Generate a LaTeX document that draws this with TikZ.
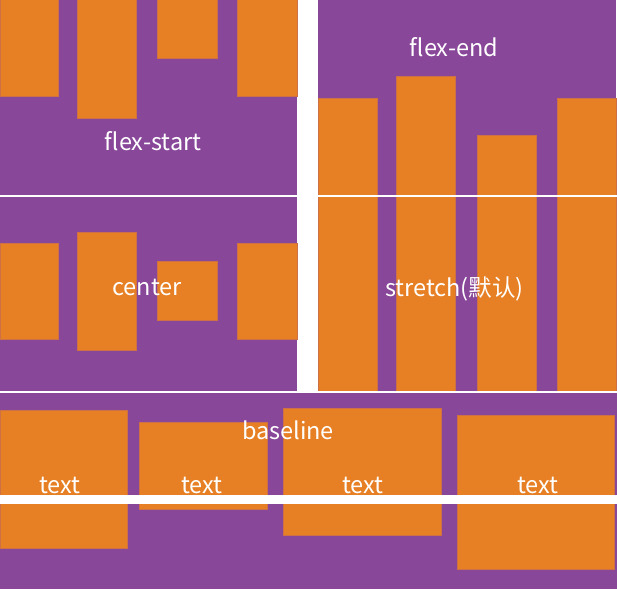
\documentclass[tikz,border=0pt]{standalone}
\usepackage{fontspec}
\newfontfamily\cjkfont{Noto Sans CJK SC}
\usetikzlibrary{positioning}
\definecolor{boxpurple}{RGB}{136,71,153}
\definecolor{itemorange}{RGB}{231,128,36}
\definecolor{itemedge}{RGB}{205,112,70}
\tikzset{
  panel/.style={fill=boxpurple},
  item/.style={fill=itemorange, draw=itemedge, line width=0.5pt},
  rule/.style={fill=white},
  caption/.style={text=white, inner sep=0pt, anchor=base, font=\cjkfont\fontsize{23.5}{27}\selectfont}
}

\begin{document}
\begin{tikzpicture}[x=1pt, y=-1pt]
  \useasboundingbox (0,0) rectangle (617,589);
  \fill[white] (0,0) rectangle (617,589);
  % panels
  \fill[panel] (0,0) rectangle (297,392);
  \fill[panel] (318,0) rectangle (616,392);
  \fill[panel] (0,392) rectangle (617,589);
  % flex-start
  \foreach \xa/\xb/\yb in {0/58/96, 77/136/118, 157/217/58, 237/297/96}
    \filldraw[item] (\xa,-1) rectangle (\xb,\yb);
  % flex-end
  \foreach \xa/\xb/\ya in {318/377/98, 396/455/76, 477/536/135, 557/616/98}
    \filldraw[item] (\xa,\ya) rectangle (\xb,196);
  % center
  \foreach \xa/\xb/\ya/\yb in {0/58/243/339, 77/136/232/350, 157/217/261/320, 237/297/243/339}
    \filldraw[item] (\xa,\ya) rectangle (\xb,\yb);
  % stretch
  \foreach \xa/\xb in {318/377, 396/455, 477/536, 557/616}
    \filldraw[item] (\xa,196) rectangle (\xb,391);
  % baseline
  \foreach \xa/\xb/\ya/\yb in {0/127/410/548, 139/267/422/509, 283/441/408/535, 457/614/415/569}
    \filldraw[item] (\xa,\ya) rectangle (\xb,\yb);
  % white rules
  \fill[rule] (0,195) rectangle (617,197);
  \fill[rule] (0,391) rectangle (617,392.5);
  \fill[rule] (0,495) rectangle (617,504);
  % labels
  \node[caption] (start) at (153,150) {flex-start};
  \node[caption] (end) at (454,56.5) {flex-end};
  \node[caption] (mid) at (147,295) {center};
  \node[caption] (str) at (454.5,296.5) {stretch(默认)};
  \node[caption] (base) at (288,439.5) {baseline};
  \node[caption] (t1) at (60,493) {text};
  \node[caption] (t2) at (202,493) {text};
  \node[caption] (t3) at (363,493) {text};
  \node[caption] (t4) at (538,493) {text};
\end{tikzpicture}
\end{document}
